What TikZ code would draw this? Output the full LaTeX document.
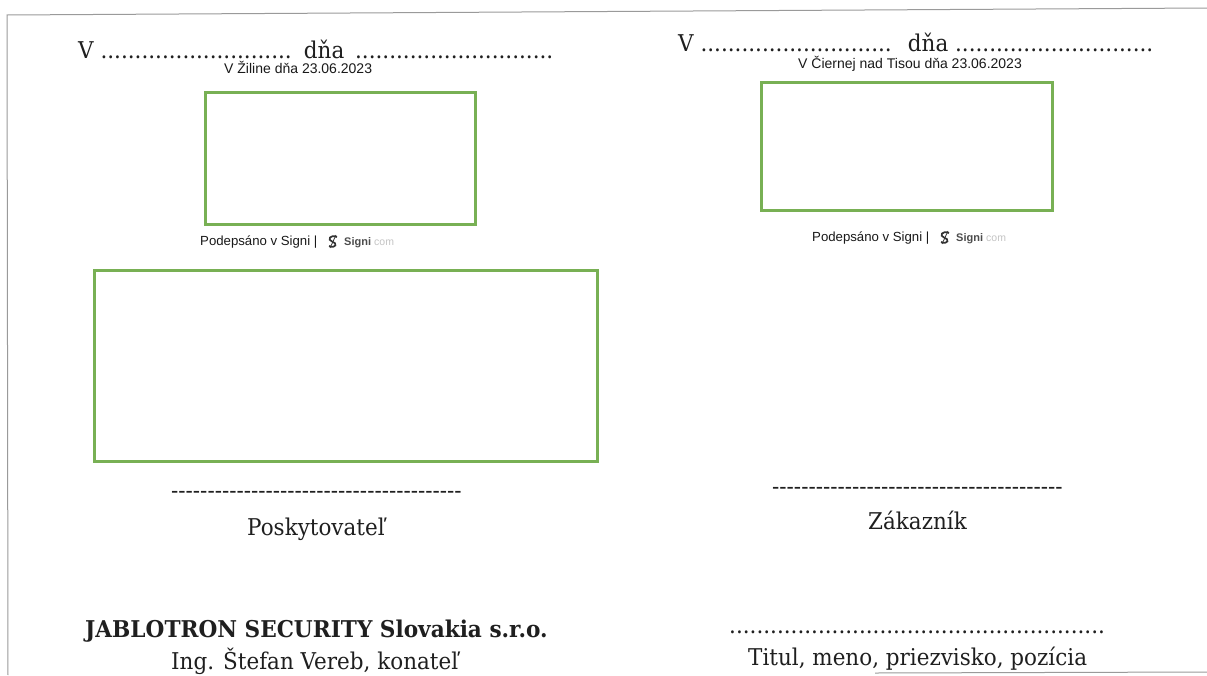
\documentclass[tikz,border=0pt]{standalone}
\usepackage{fontspec}
\setmainfont{Liberation Serif}
\newfontfamily\docserif[FakeStretch=0.93]{DejaVu Serif}
\newfontfamily\docbold[FakeStretch=0.936]{DejaVu Serif Bold}
\newfontfamily\docsans{Liberation Sans}
\definecolor{sigbox}{HTML}{78B054}
\definecolor{scanline}{HTML}{9A9A9A}
\definecolor{comgrey}{HTML}{C4C4C4}
\tikzset{
  x=1pt,y=-1pt,
  sigbox/.style={draw=sigbox,line width=3pt,fill=white},
  scan/.style={draw=scanline,line width=1pt},
  doc/.style={inner sep=0pt,anchor=base west,font=\docserif\fontsize{23.1}{28}\selectfont,text=black!88},
  small/.style={inner sep=0pt,anchor=base west,font=\docsans\fontsize{13.2}{15}\selectfont,text=black!90},
  dated/.style={inner sep=0pt,anchor=base west,font=\docsans\fontsize{14}{16}\selectfont,text=black!90},
  brand/.style={inner sep=0pt,anchor=base west,font=\docsans\bfseries\fontsize{11}{13}\selectfont,text=black!70},
  brandcom/.style={inner sep=0pt,anchor=base west,font=\docsans\fontsize{10.5}{13}\selectfont,text=comgrey},
  logo/.style={draw=black!80,line width=1.7pt},
}
\newcommand{\dotsrun}[1]{\foreach \i in {1,...,#1}{.}}
\newcommand{\dashrun}[1]{\foreach \i in {1,...,#1}{-}}
\begin{document}
\begin{tikzpicture}
\useasboundingbox (0,0) rectangle (1207,675);
\fill[white] (0,0) rectangle (1207,675);
% scan edges
\coordinate (tl) at (7,15);
\coordinate (tr) at (1207,8);
\coordinate (bl) at (8,675);
\coordinate (bm) at (875,673);
\coordinate (br) at (1207,672);
\draw[scan] (bl) -- (tl) -- (tr);
\draw[scan] (bm) -- (br);
% signature boxes
\node[sigbox,minimum width=270pt,minimum height=132pt,inner sep=0pt,anchor=north west] (boxa) at (203.5,91) {};
\node[sigbox,minimum width=291pt,minimum height=128pt,inner sep=0pt,anchor=north west] (boxb) at (759.5,81) {};
\node[sigbox,minimum width=503pt,minimum height=191pt,inner sep=0pt,anchor=north west] (boxc) at (93,268.5) {};
% left heading
\node[doc] (v1) at (78,58) {V \dotsrun{28}\hspace{3pt} dňa \hspace{4pt}\dotsrun{29}};
\node[dated] (d1) at (224,73) {V Žiline dňa 23.06.2023};
\node[small] (s1) at (200,245.5) {Podepsáno v Signi |};
\draw[logo] (337,237) .. controls (330,234) and (327,240) .. (332,241.5) .. controls (338,243) and (336,249) .. (329,246);
\draw[logo,line width=.8pt] (336,235) -- (330,248);
\node[brand] (g1) at (344,245) {Signi};
\node[brandcom] (c1) at (374,245) {com};
% right heading
\node[doc] (v2) at (678,51) {V \dotsrun{28}\hspace{7pt} dňa \dotsrun{29}};
\node[dated] (d2) at (798,68) {V Čiernej nad Tisou dňa 23.06.2023};
\node[small] (s2) at (812,241.5) {Podepsáno v Signi |};
\draw[logo] (949,233) .. controls (942,230) and (939,236) .. (944,237.5) .. controls (950,239) and (948,245) .. (941,242);
\draw[logo,line width=.8pt] (948,231) -- (942,244);
\node[brand] (g2) at (956,241) {Signi};
\node[brandcom] (c2) at (986,241) {com};
% bottom left
\node[doc] (l1) at (171,498) {\dashrun{40}};
\node[doc] (p1) at (247,535) {Poskytovateľ};
\node[doc,font=\docbold\fontsize{23.1}{28}\selectfont] (j1) at (85,637) {JABLOTRON SECURITY Slovakia s.r.o.};
\node[doc] (i1) at (171,669.5) {Ing. Štefan Vereb, konateľ};
% bottom right
\node[doc] (l2) at (772,494) {\dashrun{40}};
\node[doc] (z1) at (868,529) {Zákazník};
\node[doc] (l3) at (729,633) {\dotsrun{55}};
\node[doc] (t1) at (748,665) {Titul, meno, priezvisko, pozícia};
\end{tikzpicture}
\end{document}
